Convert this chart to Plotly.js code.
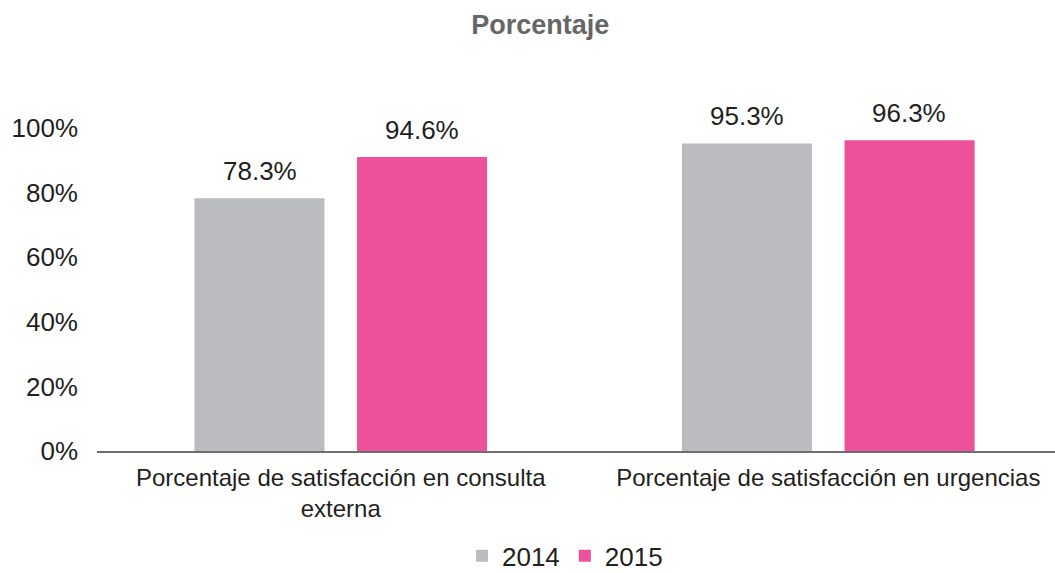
<!DOCTYPE html>
<html>
<head>
<meta charset="utf-8">
<script src="https://cdn.plot.ly/plotly-3.0.1.min.js"></script>
<style>
  html, body { margin: 0; padding: 0; background: #fff; }
  #chart { width: 1055px; height: 573px; }
</style>
</head>
<body>
<div id="chart"></div>
<script>
const categories = [
  "Porcentaje de satisfacción en consulta<br>externa",
  "Porcentaje de satisfacción en urgencias"
];
const seriesNames = ["2014", "2015"];
// bar heights as drawn in the picture
const values2014 = [78.3, 95.3];
const values2015 = [91.1, 96.3];
// data labels as printed above the bars
const labels2014 = ["78.3%", "95.3%"];
const labels2015 = ["94.6%", "96.3%"];
const yTicks = [0, 20, 40, 60, 80, 100];
const yTickText = ["0%", "20%", "40%", "60%", "80%", "100%"];

const colors = ["#bbbcc0", "#ec519a"];
const font = "Liberation Sans, Arial, Helvetica, sans-serif";
const textColor = "#231f20";

const traces = [
  { name: seriesNames[0], x: categories, y: values2014, marker: { color: colors[0] } },
  { name: seriesNames[1], x: categories, y: values2015, marker: { color: colors[1] } }
].map(t => Object.assign({ type: "bar", hoverinfo: "skip" }, t));

// labels sit above each bar, offset to the bar's slot in the group
const slotShift = 81;
const annotations = [];
[[values2014, labels2014, -slotShift], [values2015, labels2015, slotShift]].forEach(([vals, labs, shift]) => {
  vals.forEach((v, i) => {
    annotations.push({
      x: i, y: v, xref: "x", yref: "y",
      text: labs[i], showarrow: false,
      xshift: shift, yshift: 27, yanchor: "middle",
      font: { family: font, size: 26, color: textColor }
    });
  });
});

const layout = {
  width: 1055,
  height: 573,
  margin: { l: 97, r: 0, t: 96, b: 122, autoexpand: false },
  paper_bgcolor: "#ffffff",
  plot_bgcolor: "#ffffff",
  font: { family: font, color: textColor },
  title: {
    text: "<b>Porcentaje</b>",
    x: 0.512, xanchor: "center",
    y: 0.957, yanchor: "middle",
    font: { family: font, size: 27, color: "#666666" }
  },
  barmode: "group",
  bargap: 0.333,
  bargroupgap: 0.2,
  xaxis: {
    type: "category",
    range: [-0.5, 1.465],
    showline: true,
    linecolor: "#6d6d6d",
    linewidth: 2,
    showgrid: false,
    zeroline: false,
    ticks: "",
    ticklabelstandoff: 4,
    tickfont: { family: font, size: 24, color: textColor }
  },
  yaxis: {
    range: [0, 110],
    tickmode: "array",
    tickvals: yTicks,
    ticktext: yTickText,
    showgrid: false,
    zeroline: false,
    showline: false,
    ticks: "",
    ticklabelstandoff: 18,
    tickfont: { family: font, size: 26, color: textColor }
  },
  showlegend: true,
  legend: {
    orientation: "h",
    xref: "paper", x: 0.4885, xanchor: "center",
    yref: "container", y: 0.03, yanchor: "middle",
    font: { family: font, size: 26, color: textColor },
    itemclick: false
  },
  annotations
};

Plotly.newPlot("chart", traces, layout, { displayModeBar: false, staticPlot: true });
</script>
</body>
</html>
